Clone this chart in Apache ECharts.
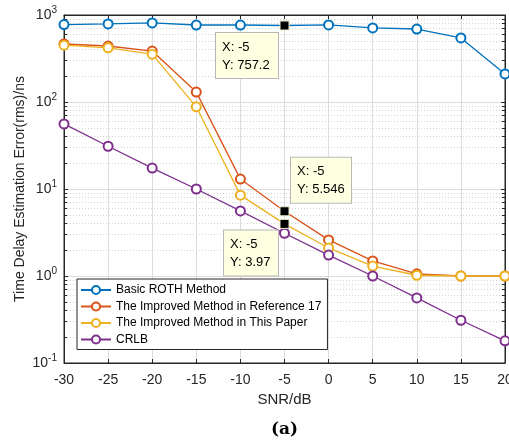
<!DOCTYPE html>
<html><head><meta charset="utf-8">
<script src="https://cdn.jsdelivr.net/npm/echarts@6/dist/echarts.min.js"></script>
<style>html,body{margin:0;padding:0;background:#fff}#c{width:509px;height:440px}</style>
</head><body><div id="c"></div>
<script>
const snr = [-30,-25,-20,-15,-10,-5,0,5,10,15,20];
const roth = [777,790,810,767,767,757.2,770,710,690,545,210];
const ref17 = [464,440,385,130,13,5.546,2.6,1.49,1.06,1.0,1.0];
const thisPaper = [450,420,355,88,8.5,3.97,2.1,1.3,1.02,1.0,1.0];
const crlb = [56,31,17.4,10,5.6,3.1,1.74,1.0,0.56,0.31,0.18];
const names = ['Basic ROTH Method','The Improved Method in Reference 17','The Improved Method in This Paper','CRLB'];
const colors = ['#0072BD','#D95319','#EDB120','#7E2F8E'];
const tips = [
  {series:0, x:-5, y:757.2, text:'X: -5\nY: 757.2', pos:[-63.5,12.5], w:50},
  {series:1, x:-5, y:5.546, text:'X: -5\nY: 5.546', pos:[11.5,-48.5], w:48},
  {series:2, x:-5, y:3.97, text:'X: -5\nY: 3.97', pos:[-55.5,11.5], w:42}
];
const minorVals = [];
[-1,0,1,2].forEach(d=>{for(let m=2;m<=9;m++) minorVals.push(+(m*Math.pow(10,d)).toPrecision(3));});

const chart = echarts.init(document.getElementById('c'));
const font = 'Liberation Sans, Arial, Helvetica, sans-serif';
const axisCol = '#262626';
const datas = [roth, ref17, thisPaper, crlb];

const series = datas.map((arr,i)=>{
  const myTips = tips.filter(t=>t.series===i);
  return {
  name: names[i], type:'line', xAxisIndex:0, yAxisIndex:0,
  data: snr.map((x,k)=>{
    const hidden = myTips.some(t=>t.x===x);
    return hidden ? {value:[x,arr[k]], symbol:'none'} : [x,arr[k]];
  }),
  symbol:'emptyCircle', symbolSize:9, showSymbol:true,
  lineStyle:{width:1.3,color:colors[i],type:'solid'},
  itemStyle:{color:colors[i],borderWidth:1.3},
  z: 2+i,
  markPoint: {
    z: 12,
    data: myTips.map(t=>({
      coord:[t.x,t.y], symbol:'rect', symbolSize:9,
      itemStyle:{color:'#000',borderColor:'#e8e8c8',borderWidth:1},
      label:{show:true, formatter:t.text, position:t.pos, align:'left', verticalAlign:'top',
        color:'#000', fontFamily:font, fontSize:13, lineHeight:18, width:t.w,
        backgroundColor:'#FFFFE1', borderColor:'#b8b8b8', borderWidth:1, padding:[5,6,4,6]}
    })),
    silent:true, animation:false
  }
}});

// minor grid lines & minor ticks (log positions)
const gridLines = minorVals.map(v=>({yAxis:v}));
const tickLines = [];
minorVals.forEach(v=>{
  tickLines.push([{coord:[-30,v]},{coord:[-29.65,v]}]);
  tickLines.push([{coord:[20,v]},{coord:[19.65,v]}]);
});
series.push({
  name:'minorGrid', type:'line', data:[[-30,1]], symbol:'none', lineStyle:{opacity:0},
  xAxisIndex:0, yAxisIndex:0, silent:true, z:1,
  markLine:{z:1, silent:true, symbol:'none', animation:false, label:{show:false},
    lineStyle:{color:'#d4d4d4', type:[1,2], width:1},
    data: gridLines}
});
series.push({
  name:'minorTicks', type:'line', data:[[-30,1]], symbol:'none', lineStyle:{opacity:0},
  xAxisIndex:0, yAxisIndex:0, silent:true, z:1,
  markLine:{z:2, silent:true, symbol:'none', animation:false, label:{show:false},
    lineStyle:{color:axisCol, type:'solid', width:1},
    data: tickLines}
});

chart.setOption({
  animation:false,
  backgroundColor:'#fff',
  grid:{left:64,right:4,top:15,bottom:77,outerBoundsMode:'none',containLabel:false,
    show:true,borderColor:axisCol,borderWidth:1,backgroundColor:'#fff'},
  legend:{
    data:names, orient:'vertical', left:77, top:279, z:8,
    backgroundColor:'#fff', borderColor:axisCol, borderWidth:1,
    padding:[4,6,3,3], itemWidth:30, itemHeight:10, itemGap:2.5,
    textStyle:{fontFamily:font,fontSize:12,lineHeight:14,color:'#000'}
  },
  xAxis:[{
    type:'value', min:-30, max:20, interval:5,
    name:'SNR/dB', nameLocation:'middle', nameGap:16,
    nameTextStyle:{fontFamily:font,fontSize:15,color:axisCol},
    axisLine:{show:true,onZero:false,lineStyle:{color:axisCol}},
    axisTick:{show:true,inside:true,length:4,lineStyle:{color:axisCol}},
    axisLabel:{fontFamily:font,fontSize:14,color:axisCol,margin:10},
    splitLine:{show:true,lineStyle:{color:'#dcdcdc',width:1}}
  },{
    type:'value', min:-30, max:20, interval:5, position:'top',
    axisLine:{show:true,onZero:false,lineStyle:{color:axisCol}},
    axisTick:{show:true,inside:true,length:4,lineStyle:{color:axisCol}},
    axisLabel:{show:false}, splitLine:{show:false}
  }],
  yAxis:[{
    type:'log', logBase:10, min:0.1, max:1000,
    name:'Time Delay Estimation Error(rms)/ns', nameLocation:'middle', nameGap:37, nameMoveOverlap:false,
    nameTextStyle:{fontFamily:font,fontSize:14,color:axisCol},
    axisLine:{show:true,onZero:false,lineStyle:{color:axisCol}},
    axisTick:{show:true,inside:true,length:4,lineStyle:{color:axisCol}},
    axisLabel:{fontFamily:font,fontSize:14,color:axisCol,margin:7,
      formatter:v=>'{b|10}{s|'+Math.round(Math.log10(v))+'}',
      rich:{b:{fontFamily:font,fontSize:14,color:axisCol},
            s:{fontFamily:font,fontSize:10,color:axisCol,padding:[0,0,9,0]}}},
    splitLine:{show:true,lineStyle:{color:'#dcdcdc',width:1}}
  },{
    type:'log', logBase:10, min:0.1, max:1000, position:'right',
    axisLine:{show:true,onZero:false,lineStyle:{color:axisCol}},
    axisTick:{show:true,inside:true,length:4,lineStyle:{color:axisCol}},
    axisLabel:{show:false}, splitLine:{show:false}
  }],
  graphic:[{type:'text', left:271, top:421, style:{text:'(a)', fontFamily:'DejaVu Serif, Liberation Serif, serif', fontWeight:'bold', fontSize:17, fill:'#000'}}],
  series: series
});
</script></body></html>
